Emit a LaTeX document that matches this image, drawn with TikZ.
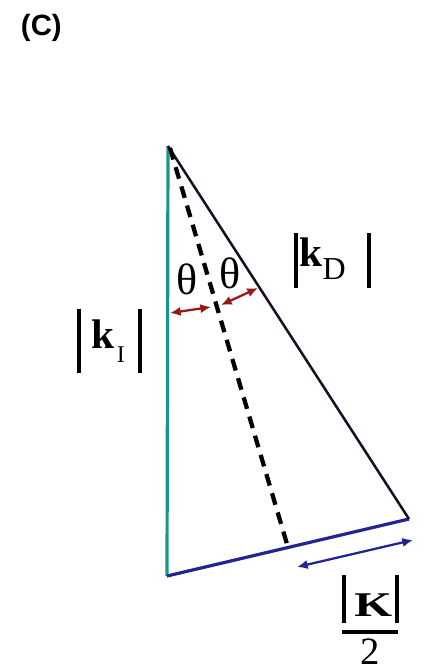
\documentclass[tikz,border=0pt]{standalone}
\usepackage{fontspec}
\setmainfont{Liberation Serif}
\newfontfamily\labsans{Liberation Sans}
\usetikzlibrary{arrows.meta}
\definecolor{tealc}{RGB}{25,150,140}
\definecolor{navyc}{RGB}{35,35,145}
\definecolor{darkredc}{RGB}{150,25,20}
\definecolor{darkline}{RGB}{25,15,35}
\tikzset{
  side/.style={line width=2.4pt},
  dasheddiv/.style={line width=3.2pt, dash pattern=on 9pt off 6pt, black},
  dblarrow/.style={line width=1.7pt, {Latex[length=8pt,width=7pt]}-{Latex[length=8pt,width=7pt]}},
  lab/.style={inner sep=0pt, outer sep=0pt, anchor=base west},
}
\begin{document}
\begin{tikzpicture}[x=0.75pt,y=-0.75pt]
\useasboundingbox (0,0) rectangle (424,671);
% vertices
\coordinate (apex) at (168,146);
\coordinate (bl) at (167,576);
\coordinate (br) at (409,519);
\coordinate (mid) at (287,544);
% sides
\draw[side, tealc] (apex) -- (bl);
\draw[side, navyc] (bl) -- (br);
\draw[side, line width=1.9pt, darkline] (apex) -- (br);
\draw[dasheddiv] (170,148) -- (mid);
% angle arrows
\coordinate (a1) at (170,313);
\coordinate (a2) at (211,307);
\coordinate (a3) at (221,305);
\coordinate (a4) at (258,288);
\draw[dblarrow, darkredc] (a1) -- (a2);
\draw[dblarrow, darkredc] (a3) -- (a4);
% K/2 arrow
\coordinate (b1) at (297,567);
\coordinate (b2) at (413,540);
\draw[dblarrow, navyc] (b1) -- (b2);
% labels
\node[lab] (lC) at (21,36) {\labsans\fontsize{22pt}{22pt}\selectfont\bfseries (C)};
\node[anchor=base, inner sep=0pt] (th1) at (187,294) {\fontsize{33pt}{33pt}\selectfont θ};
\node[anchor=base, inner sep=0pt] (th2) at (230,288) {\fontsize{33pt}{33pt}\selectfont θ};
\node[lab] (kI) at (77,348) {\fontsize{31pt}{31pt}\selectfont\rule[-19pt]{3.2pt}{48pt}\makebox[42.55pt][l]{\hspace{8pt}\textbf{k}\hspace{1.5pt}\raisebox{-11pt}{\fontsize{18pt}{18pt}\selectfont I}}\rule[-19pt]{3.2pt}{48pt}};
\node[lab] (kD) at (294,266) {\fontsize{31pt}{31pt}\selectfont\rule[-16.5pt]{3.2pt}{41pt}\makebox[51.55pt][l]{\hspace{1pt}\textbf{k}\raisebox{-10pt}{\fontsize{24pt}{24pt}\selectfont D}}\rule[-16.5pt]{3.2pt}{41pt}};
\node[lab] (KK) at (342,616) {\fontsize{26pt}{26pt}\selectfont\rule[-5pt]{3.2pt}{36pt}\makebox[36.55pt][l]{\hspace{6pt}\scalebox{1.4}[1]{\textbf{K}}}\rule[-5pt]{3.2pt}{36pt}};
\coordinate (fb1) at (342,632);
\coordinate (fb2) at (398,632);
\draw[line width=3.2pt] (fb1) -- (fb2);
\node[anchor=base, inner sep=0pt] (two) at (370,664) {\fontsize{29pt}{29pt}\selectfont 2};
\end{tikzpicture}
\end{document}
